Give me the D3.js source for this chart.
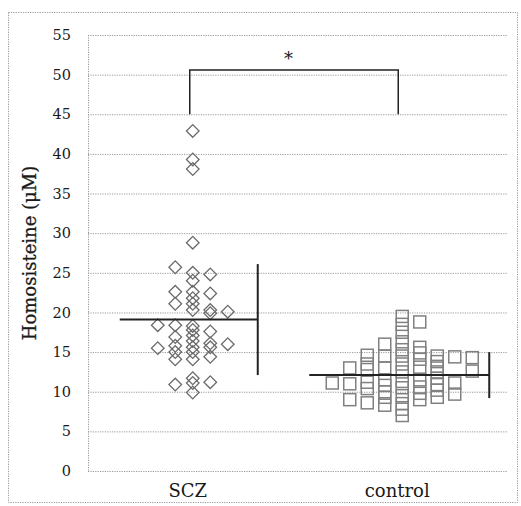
<!DOCTYPE html>
<html>
<head>
<script src="https://d3js.org/d3.v7.min.js"></script>
<style>
    body { margin: 0; background: #fff; }
    .grid line { stroke: #999; stroke-dasharray: 1.2 1.2; }
    text { font-family: "DejaVu Serif", "Liberation Serif", serif; fill: #1a1a1a; }
</style>
</head>
<body>
<svg width="521" height="506"></svg>
<script>
// groups and y ticks
var groups = ["SCZ", "control"];
var yTicks = [0, 5, 10, 15, 20, 25, 30, 35, 40, 45, 50, 55];

// SCZ values (uM) and the swarm column each point sits in
var sczValues = [42.9, 39.3, 38.1, 28.8, 25.0, 24.0, 22.6, 21.8, 21.1, 20.3, 18.3, 17.8, 17.1, 16.4, 15.6, 15.0, 14.1, 11.7, 11.1, 9.9,
                 25.7, 22.6, 21.1, 18.4, 16.9, 15.8, 15.0, 14.1, 10.9,
                 24.8, 22.4, 20.3, 19.9, 17.6, 16.1, 15.6, 14.4, 11.2,
                 20.1, 16.0,
                 18.4, 15.5];
var sczCols = [0, 0, 0, 0, 0, 0, 0, 0, 0, 0, 0, 0, 0, 0, 0, 0, 0, 0, 0, 0,
               -1, -1, -1, -1, -1, -1, -1, -1, -1,
               1, 1, 1, 1, 1, 1, 1, 1, 1,
               2, 2,
               -2, -2];

// control values (uM) and their columns
var ctrlValues = [11.1,
                  13.0, 11.0, 9.0,
                  14.6, 13.5, 12.8, 11.2, 10.4, 8.6,
                  16.0, 14.5, 13.0, 11.5, 10.8, 10.0, 9.3, 8.3,
                  19.5, 18.5, 17.5, 16.3, 15.3, 14.5, 13.5, 12.5, 11.3, 10.5, 9.5, 8.5, 7.8, 7.0,
                  18.8, 15.6, 14.9, 14.1, 13.1, 11.5, 10.6, 9.8, 9.0,
                  14.5, 13.8, 13.2, 12.5, 11.7, 10.9, 10.2, 9.3,
                  14.4, 11.1, 9.7,
                  14.3, 12.6];
var ctrlCols = [-4,
                -3, -3, -3,
                -2, -2, -2, -2, -2, -2,
                -1, -1, -1, -1, -1, -1, -1, -1,
                0, 0, 0, 0, 0, 0, 0, 0, 0, 0, 0, 0, 0, 0,
                1, 1, 1, 1, 1, 1, 1, 1, 1,
                2, 2, 2, 2, 2, 2, 2, 2,
                3, 3, 3,
                4, 4];

// mean and SD per group
var means = [19.1, 12.1];
var sds = [7.0, 2.9];
var bracketY = [45, 50.6];

var svg = d3.select("svg"),
    margin = {top: 35, right: 14, bottom: 35, left: 88},
    width = 521 - margin.left - margin.right,
    height = 506 - margin.top - margin.bottom,
    g = svg.append("g").attr("transform", "translate(" + margin.left + "," + margin.top + ")");

// outer dotted frame
svg.append("rect")
    .attr("x", 8.5).attr("y", 12.5)
    .attr("width", 509).attr("height", 490)
    .attr("fill", "none")
    .attr("stroke", "#999")
    .attr("stroke-dasharray", "1.2 1.2");

var x = d3.scaleBand().domain(groups).range([0, width]);
var y = d3.scaleLinear().domain([0, 55]).range([height, 0]);
var col = d3.scaleLinear().domain([0, 1]).range([0, 17.5]);

// grid
g.append("g").attr("class", "grid")
    .selectAll("line").data(yTicks).enter().append("line")
    .attr("x1", 0).attr("x2", width)
    .attr("y1", function (d) { return y(d) + 0.5; })
    .attr("y2", function (d) { return y(d) + 0.5; });
g.append("g").attr("class", "grid")
    .append("line")
    .attr("x1", 0.5).attr("x2", 0.5)
    .attr("y1", y(55)).attr("y2", y(0));

// y axis labels
g.selectAll(".ytick").data(yTicks).enter().append("text")
    .attr("class", "ytick")
    .attr("x", -17)
    .attr("y", function (d) { return y(d); })
    .attr("dy", "0.35em")
    .attr("text-anchor", "end")
    .style("font-size", "14.5px")
    .text(function (d) { return d; });

g.append("text")
    .attr("transform", "translate(-52," + y(27.5) + ") rotate(-90)")
    .attr("text-anchor", "middle")
    .style("font-size", "18px")
    .attr("stroke", "#1a1a1a")
    .attr("stroke-width", 0.3)
    .text("Homosisteine (μM)");

// x labels
g.selectAll(".xlab").data(groups).enter().append("text")
    .attr("class", "xlab")
    .attr("x", function (d) { return x(d) + x.bandwidth() / 2 - 5; })
    .attr("y", height + 26)
    .attr("text-anchor", "middle")
    .style("font-size", "18px")
    .text(function (d) { return d; });

var cScz = x("SCZ") + x.bandwidth() / 2;
var cCtrl = x("control") + x.bandwidth() / 2;

// control squares
g.selectAll(".sq").data(ctrlValues).enter().append("rect")
    .attr("class", "sq")
    .attr("x", function (d, i) { return cCtrl + col(ctrlCols[i]) - 6; })
    .attr("y", function (d) { return y(d) - 6; })
    .attr("width", 12).attr("height", 12)
    .attr("fill", "none")
    .attr("stroke", "#808080")
    .attr("stroke-width", 1.5);

// SCZ diamonds
var dm = d3.symbol().type(d3.symbolSquare).size(80);
g.selectAll(".dm").data(sczValues).enter().append("path")
    .attr("class", "dm")
    .attr("d", dm)
    .attr("transform", function (d, i) {
        return "translate(" + (cScz + col(sczCols[i])) + "," + y(d) + ") rotate(45)";
    })
    .attr("fill", "none")
    .attr("stroke", "#6a6a6a")
    .attr("stroke-width", 1.3);

// mean lines and SD bars
var meanSpan = [[-73, 65], [-93, 87]];
[cScz, cCtrl].forEach(function (c, i) {
    g.append("line")
        .attr("x1", c + meanSpan[i][0]).attr("x2", c + meanSpan[i][1])
        .attr("y1", y(means[i])).attr("y2", y(means[i]))
        .attr("stroke", "#222").attr("stroke-width", 2);
    g.append("line")
        .attr("x1", c + meanSpan[i][1]).attr("x2", c + meanSpan[i][1])
        .attr("y1", y(means[i] + sds[i])).attr("y2", y(means[i] - sds[i]))
        .attr("stroke", "#222").attr("stroke-width", 2);
});

// significance bracket
g.append("path")
    .attr("d", "M" + (cScz - 3) + "," + y(bracketY[0]) + "V" + y(bracketY[1]) +
               "H" + (cCtrl - 4) + "V" + y(bracketY[0]))
    .attr("fill", "none")
    .attr("stroke", "#222")
    .attr("stroke-width", 1.5);

g.append("text")
    .attr("x", (cScz + cCtrl) / 2 - 9)
    .attr("y", y(bracketY[1]) - 5)
    .attr("text-anchor", "middle")
    .style("font-size", "18px")
    .text("*");
</script>
</body>
</html>
